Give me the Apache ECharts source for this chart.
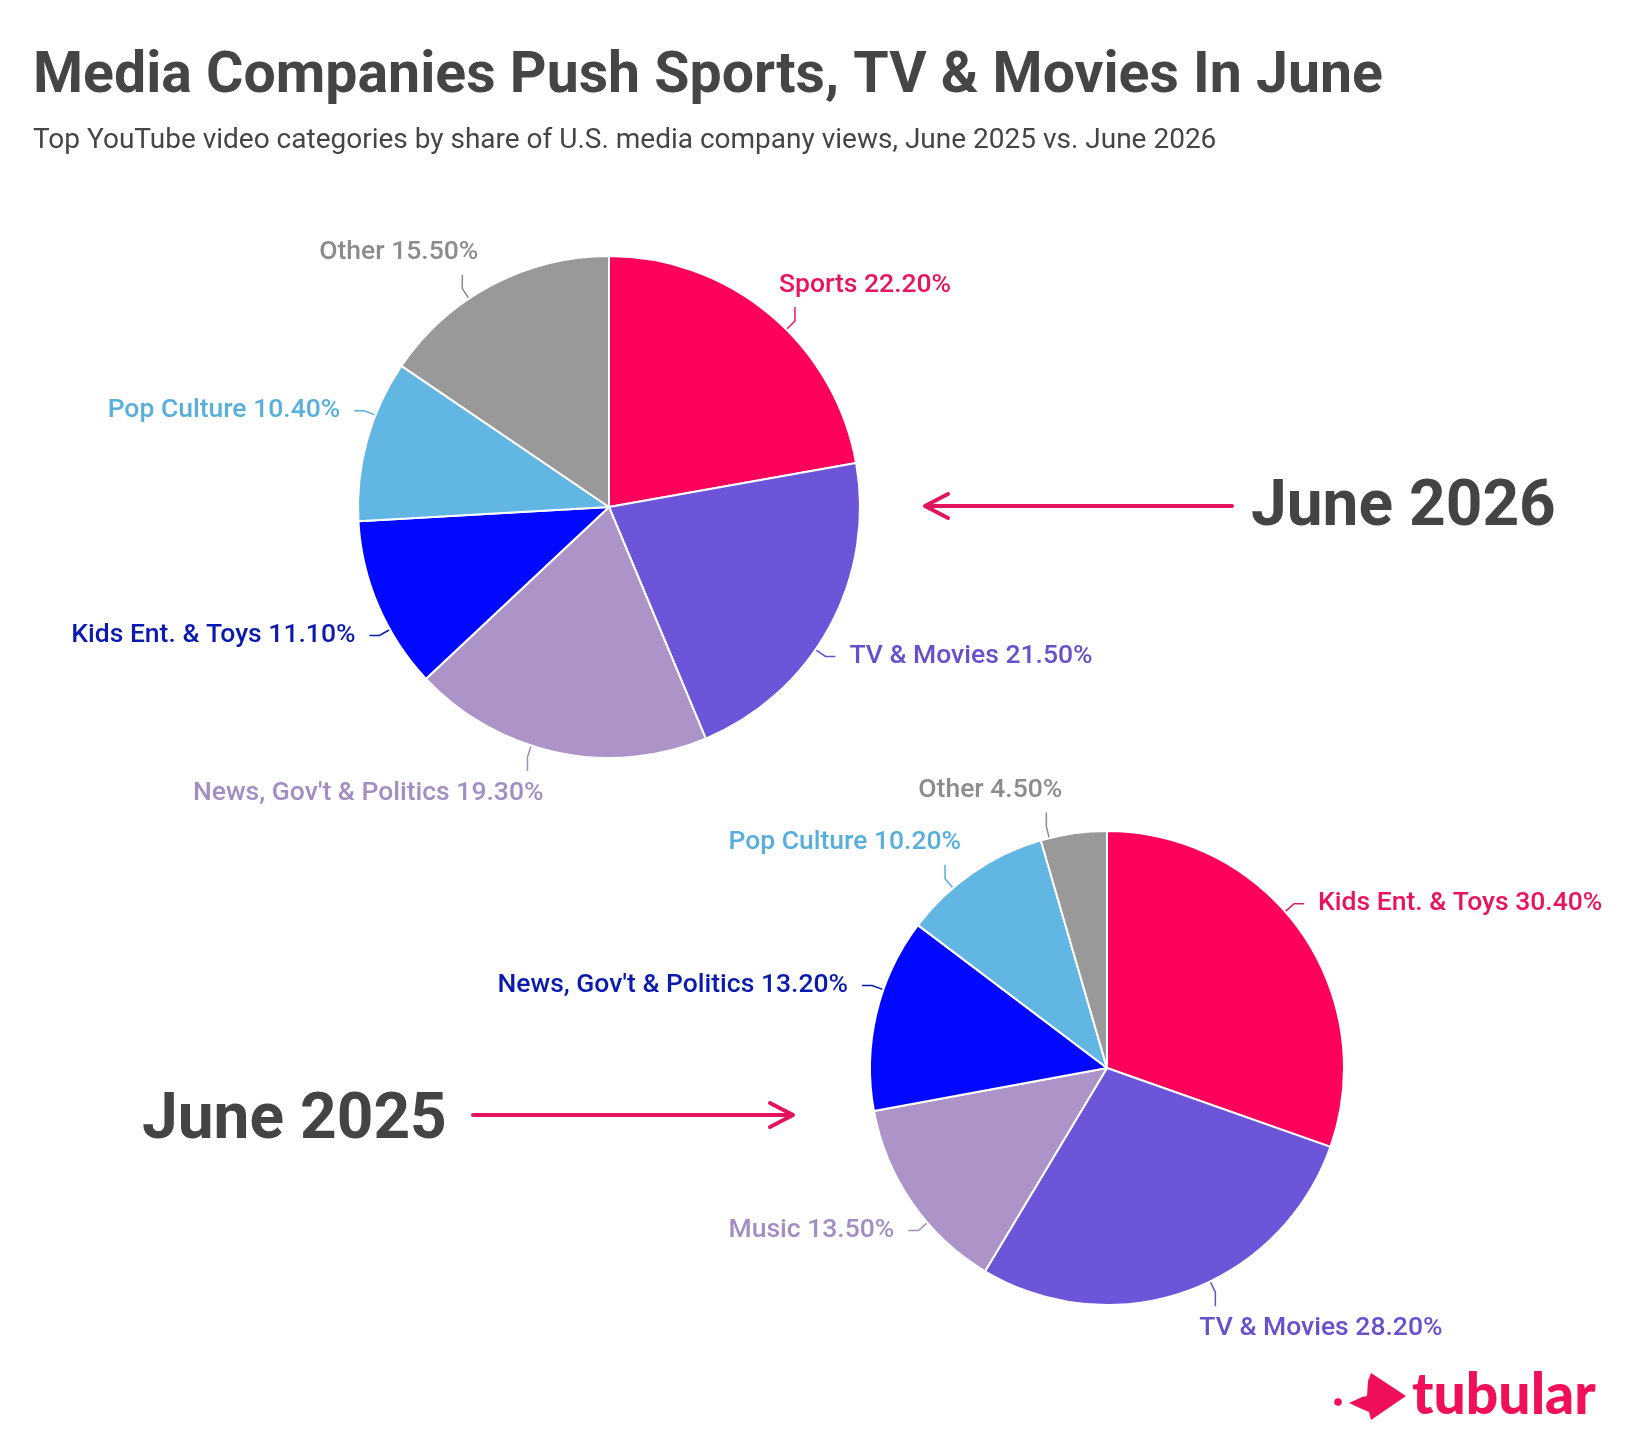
<!DOCTYPE html>
<html><head><meta charset="utf-8">
<script src="https://cdn.jsdelivr.net/npm/echarts@6/dist/echarts.min.js"></script>
<style>html,body{margin:0;padding:0;background:#fff}#c{width:1638px;height:1448px}</style>
</head><body><div id="c"></div>
<script>
// ---- data ----
const categories2026 = ['Sports', 'TV & Movies', "News, Gov't & Politics", 'Kids Ent. & Toys', 'Pop Culture', 'Other'];
const values2026 = [22.2, 21.5, 19.3, 11.1, 10.4, 15.5];
const categories2025 = ['Kids Ent. & Toys', 'TV & Movies', 'Music', "News, Gov't & Politics", 'Pop Culture', 'Other'];
const values2025 = [30.4, 28.2, 13.5, 13.2, 10.2, 4.5];
const titleText = 'Media Companies Push Sports, TV & Movies In June';
const subtitleText = 'Top YouTube video categories by share of U.S. media company views, June 2025 vs. June 2026';
const yearLabels = ['June 2026', 'June 2025'];

// ---- layout & styles ----
const PIE_CENTERS = [[609, 507], [1107, 1068]];
const PIE_RADII = [251, 237];
const sliceColors = ['#FF005A', '#6C55D9', '#AC94C8', '#0008FF', '#62B6E3', '#999999'];
const labelColors = ['#E8145C', '#6650CC', '#A38DC2', '#0A1AAE', '#58AFDC', '#8C8C8C'];
const accent = '#E2145E';
const FONT = 'Roboto';

const L1 = 12, L2H = 10, L2V = 14, GAP_H = 14, GAP_V = 22, INSET_V = 16;
const SHIFT = 6 * Math.PI / 180;   // nudge label anchors toward the diagonals
function labelLayout(p) {
  const pts = p.labelLinePoints;
  if (!pts || !pts.length) return {};
  const c = PIE_CENTERS[p.seriesIndex], R = PIE_RADII[p.seriesIndex];
  let th = Math.atan2(pts[0][0] - c[0], -(pts[0][1] - c[1]));
  if (th < 0) th += 2 * Math.PI;
  const horizontal = Math.abs(Math.sin(th)) > 0.7;
  const q = Math.PI / 2;
  const diag = Math.round((th - q / 2) / q) * q + q / 2;
  const d = diag - th;
  th += Math.sign(d) * Math.min(Math.abs(d), SHIFT);
  const dx = Math.sin(th), dy = -Math.cos(th);
  const p0 = [c[0] + dx * R, c[1] + dy * R];
  const a = [p0[0] + dx * L1, p0[1] + dy * L1];
  if (horizontal) {
    const s = dx < 0 ? -1 : 1;
    const b = [a[0] + s * L2H, a[1]];
    return { x: b[0] + s * GAP_H, y: b[1], align: s < 0 ? 'right' : 'left', verticalAlign: 'middle', labelLinePoints: [p0, a, b] };
  }
  const s = dy < 0 ? -1 : 1;
  const b = [a[0], a[1] + s * L2V];
  const left = dx < 0;
  return { x: b[0] + (left ? INSET_V : -INSET_V), y: b[1] + s * GAP_V, align: left ? 'right' : 'left', verticalAlign: 'middle', labelLinePoints: [p0, a, b] };
}

function pieSeries(idx, name, cats, vals) {
  return {
    type: 'pie', name, center: PIE_CENTERS[idx], radius: PIE_RADII[idx], startAngle: 90, clockwise: true,
    avoidLabelOverlap: false, animation: false,
    data: cats.map((c, i) => ({
      name: c, value: vals[i],
      itemStyle: { color: sliceColors[i] },
      label: { color: labelColors[i] },
      labelLine: { lineStyle: { color: labelColors[i] } }
    })),
    itemStyle: { borderColor: '#ffffff', borderWidth: 2 },
    label: {
      show: true, position: 'outside',
      formatter: p => p.name + ' ' + p.value.toFixed(2) + '%',
      fontFamily: FONT, fontSize: 26.5, fontWeight: 500
    },
    labelLine: { show: true, length: L1, length2: L2H, lineStyle: { width: 1.5 } },
    labelLayout: labelLayout,
    emphasis: { disabled: true }
  };
}

const chart = echarts.init(document.getElementById('c'), null, { renderer: 'canvas' });
chart.setOption({
  backgroundColor: '#ffffff',
  title: [
    { text: titleText, left: 33, top: 49, padding: 0,
      textStyle: { fontFamily: FONT, fontSize: 57.2, fontWeight: 'bold', color: '#454545' } },
    { text: subtitleText, left: 33, top: 127, padding: 0,
      textStyle: { fontFamily: FONT, fontSize: 28, fontWeight: 'normal', color: '#454545' } }
  ],
  series: [
    pieSeries(0, 'June 2026', categories2026, values2026),
    pieSeries(1, 'June 2025', categories2025, values2025)
  ],
  graphic: [
    { type: 'text', left: 1251, top: 477, style: { text: yearLabels[0], font: 'bold 64px Roboto', fill: '#444444' } },
    { type: 'text', left: 142, top: 1090, style: { text: yearLabels[1], font: 'bold 64px Roboto', fill: '#444444' } },
    { type: 'line', shape: { x1: 1232, y1: 506, x2: 926, y2: 506 }, style: { stroke: accent, lineWidth: 4, lineCap: 'round' } },
    { type: 'polyline', shape: { points: [[948, 494], [925, 506], [948, 518]] }, style: { stroke: accent, lineWidth: 4, fill: null, lineCap: 'round', lineJoin: 'round' } },
    { type: 'line', shape: { x1: 473, y1: 1115, x2: 792, y2: 1115 }, style: { stroke: accent, lineWidth: 4, lineCap: 'round' } },
    { type: 'polyline', shape: { points: [[770, 1103], [793, 1115], [770, 1127]] }, style: { stroke: accent, lineWidth: 4, fill: null, lineCap: 'round', lineJoin: 'round' } },
    // tubular logo
    { type: 'circle', shape: { cx: 1338, cy: 1402, r: 3.8 }, style: { fill: '#F0105A' } },
    { type: 'polygon', shape: { points: [[1349, 1403], [1362, 1397], [1367, 1396], [1368, 1381], [1371, 1373], [1406, 1396], [1371, 1420], [1369, 1412], [1362, 1409]] }, style: { fill: '#F0105A' } },
    { type: 'text', left: 1412, top: 1367, style: { text: 'tubular', font: '900 57px Lato', fill: '#F0105A' } }
  ]
});
</script></body></html>
